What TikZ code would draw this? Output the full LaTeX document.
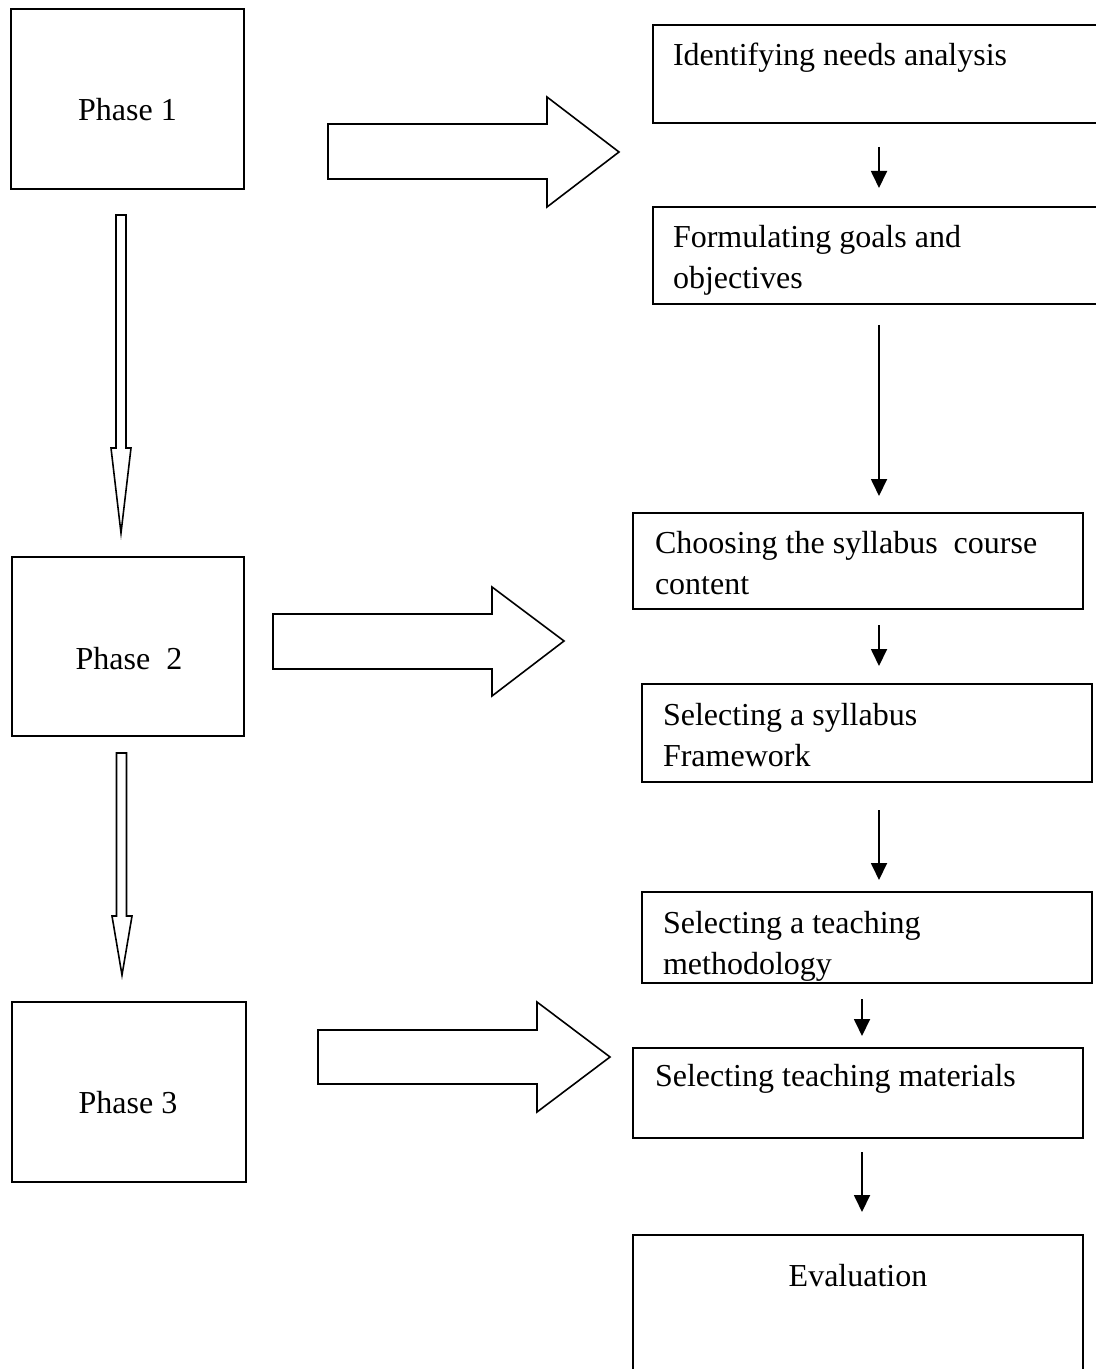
\documentclass[tikz,border=0pt]{standalone}
\usepackage{fontspec}
\setmainfont{Liberation Serif}
\usetikzlibrary{arrows.meta,calc,fit}
\begin{document}
\begin{tikzpicture}[x=0.5pt,y=-0.5pt,
  frame/.style={draw=black, line width=0.8pt, inner sep=0pt, outer sep=0pt},
  txt/.style={inner sep=0pt, outer sep=0pt, font=\fontsize{16pt}{20.5pt}\selectfont, align=left},
  flow/.style={line width=0.9pt, -{Triangle[length=8.5pt,width=8pt]}},
  hollow/.style={draw=black, line width=0.8pt, fill=white, line join=miter}
]
\useasboundingbox (0,0) rectangle (1096,1369);
\fill[white] (0,0) rectangle (1096,1369);

% phase boxes on the left
\node[frame, fit={(11,9) (244,189)}] (p1) {};
\node[frame, fit={(12,557) (244,736)}] (p2) {};
\node[frame, fit={(12,1002) (246,1182)}] (p3) {};
\node[txt, anchor=base] (p1t) at (127.5,121) {Phase 1};
\node[txt, anchor=base] (p2t) at (129,669) {Phase\ \ 2};
\node[txt, anchor=base] (p3t) at (128,1113) {Phase 3};

% step boxes on the right
\node[frame, fit={(653,25) (1100,123)}] (b1) {};
\node[frame, fit={(653,207) (1100,304)}] (b2) {};
\node[frame, fit={(633,513) (1083,609)}] (b3) {};
\node[frame, fit={(642,684) (1092,782)}] (b4) {};
\node[frame, fit={(642,892) (1092,983)}] (b5) {};
\node[frame, fit={(633,1048) (1083,1138)}] (b6) {};
\node[frame, fit={(633,1235) (1083,1380)}] (b7) {};

% texts: the base anchor of a two-line node sits on its last line
\node[txt, anchor=base west] (b1t) at (673,66) {Identifying needs analysis};
\node[txt, anchor=base west] (b2t) at (673,289) {Formulating goals and\\objectives};
\node[txt, anchor=base west] (b3t) at (655,594) {Choosing the syllabus~ course\\content};
\node[txt, anchor=base west] (b4t) at (663,766) {Selecting a syllabus\\Framework};
\node[txt, anchor=base west] (b5t) at (663,974) {Selecting a teaching\\methodology};
\node[txt, anchor=base west] (b6t) at (655,1086) {Selecting teaching materials};
\node[txt, anchor=base] (b7t) at (858,1286) {Evaluation};

% small connectors between the steps
\draw[flow] ($(b1.south west)+(226,24)$) -- ($(b2.north west)+(226,-19)$);
\draw[flow] ($(b2.south west)+(226,21)$) -- ($(b3.north west)+(246,-17)$);
\draw[flow] ($(b3.south west)+(246,16)$) -- ($(b4.north west)+(237,-18)$);
\draw[flow] ($(b4.south west)+(237,28)$) -- ($(b5.north west)+(237,-12)$);
\draw[flow] ($(b5.south west)+(220,16)$) -- ($(b6.north west)+(229,-12)$);
\draw[flow] ($(b6.south west)+(229,14)$) -- ($(b7.north west)+(229,-23)$);

% hollow block arrows from each phase to its steps
\draw[hollow] (328,124) -- (547,124) -- (547,97) -- (619,152) -- (547,207) -- (547,179) -- (328,179) -- cycle;
\draw[hollow] (273,614) -- (492,614) -- (492,587) -- (564,641) -- (492,696) -- (492,669) -- (273,669) -- cycle;
\draw[hollow] (318,1030) -- (537,1030) -- (537,1002) -- (610,1057) -- (537,1112) -- (537,1084) -- (318,1084) -- cycle;

% hollow arrows between the phases
\draw[hollow] (116,215) -- (126,215) -- (126,448) -- (131,448) -- (121,533) -- (111,448) -- (116,448) -- cycle;
\draw[hollow] (116.5,753) -- (126.5,753) -- (126.5,916) -- (132,916) -- (122,975) -- (112,916) -- (116.5,916) -- cycle;
\end{tikzpicture}
\end{document}
